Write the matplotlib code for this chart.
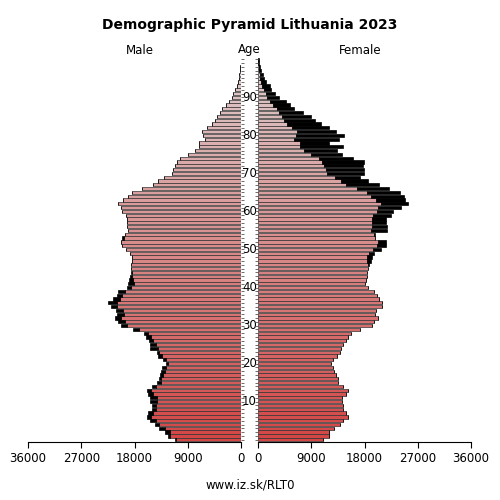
import matplotlib
matplotlib.use("Agg")
import matplotlib.pyplot as plt
import numpy as np
from matplotlib.transforms import blended_transform_factory

ages = np.arange(0, 101)
male = [11170, 12300, 12860, 13800, 14550, 15400, 15960, 15680, 15100, 15100,
        15300, 15400, 15680, 15850, 15100, 14150, 13800, 13700, 13600, 13400,
        12600, 13250, 14000, 14270, 15300, 15400, 15500, 16130, 16400, 18330,
        20360, 20750, 21300, 21040, 21150, 21900, 22450, 21600, 21040, 20750,
        19230, 19060, 18900, 18780, 18600, 18670, 18600, 18500, 18500, 18780,
        19460, 20080, 20300, 20190, 19630, 19060, 19230, 19230, 19350, 19460,
        20190, 20360, 20870, 20020, 19180, 18500, 16810, 14830, 14100, 12970,
        11730, 11560, 11170, 10770, 10320, 8910, 7780, 7050, 7050, 6090,
        6370, 6540, 5810, 4960, 4400, 4120, 3550, 3270, 2590, 1970,
        1580, 1300, 1015, 730, 560, 400, 280, 170, 110, 60, 60]
female = [10940, 12070, 12070, 12900, 13870, 14330, 15170, 14890, 14330, 14330,
          14200, 14200, 14890, 15170, 14330, 13480, 13480, 13200, 12900, 12630,
          12350, 12750, 13300, 13870, 14040, 14440, 14890, 15280, 15740, 17310,
          19290, 19680, 20360, 19800, 19970, 20920, 20920, 20530, 20080, 19680,
          18560, 18100, 18270, 18390, 18440, 18670, 18720, 19120, 19290, 19680,
          20810, 21660, 21660, 19850, 19850, 21770, 21770, 21660, 21660, 22500,
          22900, 24200, 25320, 24870, 24760, 24030, 22220, 20530, 18560, 17310,
          17990, 17880, 17710, 17990, 16020, 14200, 13300, 14330, 12070, 13650,
          14490, 13200, 11960, 10660, 9700, 8970, 7560, 6150, 5470, 4740,
          3610, 2930, 2200, 2030, 1350, 1070, 790, 510, 340, 230, 170]
xticks = [0, 9000, 18000, 27000, 36000]
age_labels = [10, 20, 30, 40, 50, 60, 70, 80, 90]

male = np.array(male); female = np.array(female)
common = np.minimum(male, female)
young = np.array([0.83, 0.27, 0.27]); old = np.array([0.87, 0.81, 0.81])
t = ages / 100.0
colors = [tuple(young * (1 - v) + old * v) for v in t]

fig = plt.figure(figsize=(5, 5), dpi=100)
axm = fig.add_axes([0.056, 0.116, 0.426, 0.77])
axf = fig.add_axes([0.516, 0.116, 0.426, 0.77])

for ax, vals in ((axm, male), (axf, female)):
    ax.barh(ages, common, height=0.85, color=colors, edgecolor="#333333", linewidth=0.5)
    ax.barh(ages, vals - common, left=common, height=0.85, color="black",
            edgecolor="black", linewidth=0.5)
    ax.set_xlim(0, 36000)
    ax.set_ylim(-0.6, 100.6)
    for s in ("top", "left", "right"):
        ax.spines[s].set_visible(False)
    ax.set_xticks(xticks)
    ax.set_xticklabels([str(x) for x in xticks], fontsize=8.5)
    ax.tick_params(axis="x", length=4)

axm.invert_xaxis()
axm.yaxis.tick_right()
axm.set_yticks(ages); axm.set_yticklabels([])
axm.tick_params(axis="y", length=2, width=0.6, colors="#555555", pad=0)
axf.set_yticks(ages); axf.set_yticklabels([])
axf.tick_params(axis="y", length=2, width=0.6, colors="#555555", pad=0)

tr = blended_transform_factory(fig.transFigure, axm.transData)
for a in age_labels:
    axm.text(0.499, a, str(a), transform=tr, ha="center", va="center", fontsize=8.5)

fig.text(0.5, 0.95, "Demographic Pyramid Lithuania 2023", ha="center", va="center",
         fontsize=10, fontweight="bold")
fig.text(0.28, 0.90, "Male", ha="center", va="center", fontsize=8.5)
fig.text(0.499, 0.90, "Age", ha="center", va="center", fontsize=8.5)
fig.text(0.72, 0.90, "Female", ha="center", va="center", fontsize=8.5)
fig.text(0.5, 0.03, "www.iz.sk/RLT0", ha="center", va="center", fontsize=8.5)

fig.savefig("out.png", dpi=100, facecolor="white")
